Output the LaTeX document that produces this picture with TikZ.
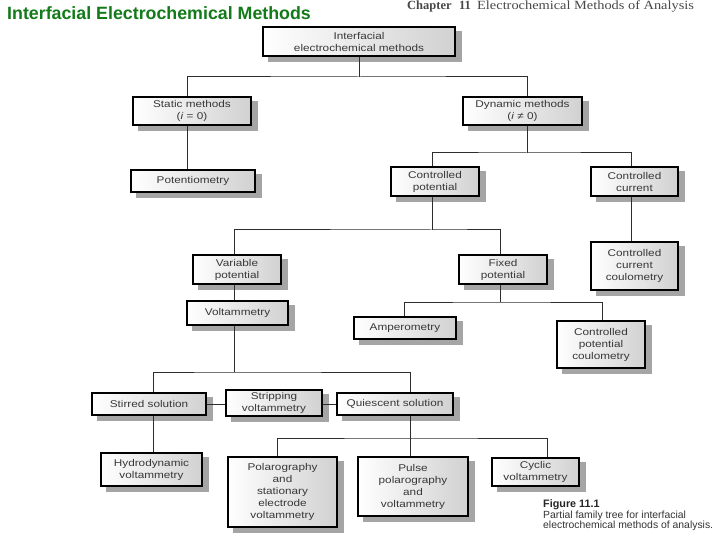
\documentclass[tikz,border=0pt]{standalone}
\usepackage{fontspec}
\setmainfont{Liberation Sans}
\newfontfamily\boxfont[FakeStretch=1.2]{Liberation Sans}
\newfontfamily\serifhead{Liberation Serif}
\newfontfamily\serifwide[FakeStretch=1.15]{Liberation Serif}
\usetikzlibrary{backgrounds}
\definecolor{titlegreen}{RGB}{18,122,24}
\definecolor{linegray}{RGB}{45,45,45}
\definecolor{shadowgray}{RGB}{165,165,165}
\definecolor{boxtext}{RGB}{55,55,55}
\begin{document}
\begin{tikzpicture}[x=1pt,y=-1pt,
  box/.style={draw=black, line width=1.1pt, left color=white, right color=black!18,
    inner sep=0pt, align=center, text=boxtext,
    font=\boxfont\fontsize{9.8}{12}\selectfont},
  conn/.style={draw=linegray, line width=1pt},
  txt/.style={anchor=base west, inner sep=0pt}]
\useasboundingbox (0,0) rectangle (720,540);

% headings
\node[txt, font=\bfseries\fontsize{17.8}{20}\selectfont, text=titlegreen] (title) at (7,20) {Interfacial Electrochemical Methods};
\node[txt, text=black!72] (chap) at (407,9.5) {\serifhead\fontsize{12.5}{14}\selectfont\textbf{Chapter\hspace{0.6em}11}\hspace{0.5em}\serifwide Electrochemical Methods of Analysis};

% boxes
\node[box, minimum width=192, minimum height=29] (root) at (359,41.5) {Interfacial\\electrochemical methods};
\node[box, minimum width=118, minimum height=28] (static) at (192,111) {Static methods\\(\textit{i} = 0)};
\node[box, minimum width=119, minimum height=28] (dynamic) at (522.5,111) {Dynamic methods\\(\textit{i} ≠ 0)};
\node[box, minimum width=124, minimum height=22] (potent) at (193,181) {Potentiometry};
\node[box, minimum width=88, minimum height=29] (cpot) at (435,181.5) {Controlled\\potential};
\node[box, minimum width=87, minimum height=29] (ccur) at (634.5,181.5) {Controlled\\current};
\node[box, minimum width=87, minimum height=48] (ccc) at (634.5,266) {Controlled\\current\\coulometry};
\node[box, minimum width=88, minimum height=29] (varpot) at (237,269.5) {Variable\\potential};
\node[box, minimum width=88, minimum height=29] (fixpot) at (503,269.5) {Fixed\\potential};
\node[box, minimum width=101, minimum height=24] (voltam) at (237.5,313) {Voltammetry};
\node[box, minimum width=102, minimum height=22] (amper) at (405,328) {Amperometry};
\node[box, minimum width=88, minimum height=47] (cpc) at (601,344.5) {Controlled\\potential\\coulometry};
\node[box, minimum width=114, minimum height=22] (stirred) at (149,404) {Stirred solution};
\node[box, minimum width=96, minimum height=26] (strip) at (274,403) {Stripping\\voltammetry};
\node[box, minimum width=116, minimum height=22] (quies) at (395,404) {Quiescent solution};
\node[box, minimum width=101, minimum height=33] (hydro) at (151.5,469.5) {Hydrodynamic\\voltammetry};
\node[box, minimum width=109, minimum height=70] (polar) at (282.5,492) {Polarography\\and\\stationary\\electrode\\voltammetry};
\node[box, minimum width=110, minimum height=59] (pulse) at (413,486.5) {Pulse\\polarography\\and\\voltammetry};
\node[box, minimum width=87, minimum height=28] (cyclic) at (535.5,472) {Cyclic\\voltammetry};

% shadows
\begin{pgfonlayer}{background}
\foreach \n in {root,static,dynamic,potent,cpot,ccur,ccc,varpot,fixpot,voltam,amper,cpc,stirred,strip,quies,hydro,polar,pulse,cyclic}{
  \fill[shadowgray] ([shift={(6,5)}]\n.south west) rectangle ([shift={(6,5)}]\n.north east);
}
\end{pgfonlayer}

% connectors
\coordinate (b1) at (359,77);
\draw[conn] (root.south) -- (b1);
\draw[conn] ([xshift=-5pt]static.north) |- (b1) -| ([xshift=4.5pt]dynamic.north);
\draw[conn] ([xshift=-5pt]static.south) -- ([xshift=-5pt]static.south |- potent.north);

\coordinate (b2) at (527,153);
\draw[conn] ([xshift=4.5pt]dynamic.south) -- (b2);
\draw[conn] ([xshift=-3pt]cpot.north) |- (b2) -| ([xshift=-3.5pt]ccur.north);
\draw[conn] ([xshift=-3.5pt]ccur.south) -- ([xshift=-3.5pt]ccur.south |- ccc.north);

\coordinate (b3) at (432,230);
\draw[conn] ([xshift=-3pt]cpot.south) -- (b3);
\draw[conn] ([xshift=-3pt]varpot.north) |- (b3) -| ([xshift=-3pt]fixpot.north);
\draw[conn] ([xshift=-3pt]varpot.south) -- ([xshift=-3pt]varpot.south |- voltam.north);

\coordinate (b4) at (500,302);
\draw[conn] ([xshift=-3pt]fixpot.south) -- (b4);
\draw[conn] ([xshift=-1pt]amper.north) |- (b4) -| ([xshift=1pt]cpc.north);

\coordinate (b5) at (234,372);
\draw[conn] ([xshift=-3.5pt]voltam.south) -- (b5);
\draw[conn] ([xshift=4pt]stirred.north) |- (b5) -| ([xshift=15pt]quies.north);
\draw[conn] (stirred.east) -- (stirred.east -| strip.west);
\draw[conn] (strip.east |- quies.west) -- (quies.west);
\draw[conn] ([xshift=4pt]stirred.south) -- ([xshift=4pt]stirred.south |- hydro.north);

\coordinate (b6) at (410,438);
\draw[conn] ([xshift=15pt]quies.south) -- (b6);
\draw[conn] ([xshift=-5.5pt]polar.north) |- (b6) -| ([xshift=11.5pt]cyclic.north);
\draw[conn] (b6) -- ([xshift=-3pt]pulse.north);

% caption
\node[txt, font=\bfseries\fontsize{10.8}{12}\selectfont, text=black!85] (figlabel) at (543,507) {Figure 11.1};
\node[txt, font=\fontsize{10.4}{12}\selectfont, text=black!80] (figcap1) at (543,518) {Partial family tree for interfacial};
\node[txt, font=\fontsize{10.4}{12}\selectfont, text=black!80] (figcap2) at (543,528) {electrochemical methods of analysis.};
\end{tikzpicture}
\end{document}
